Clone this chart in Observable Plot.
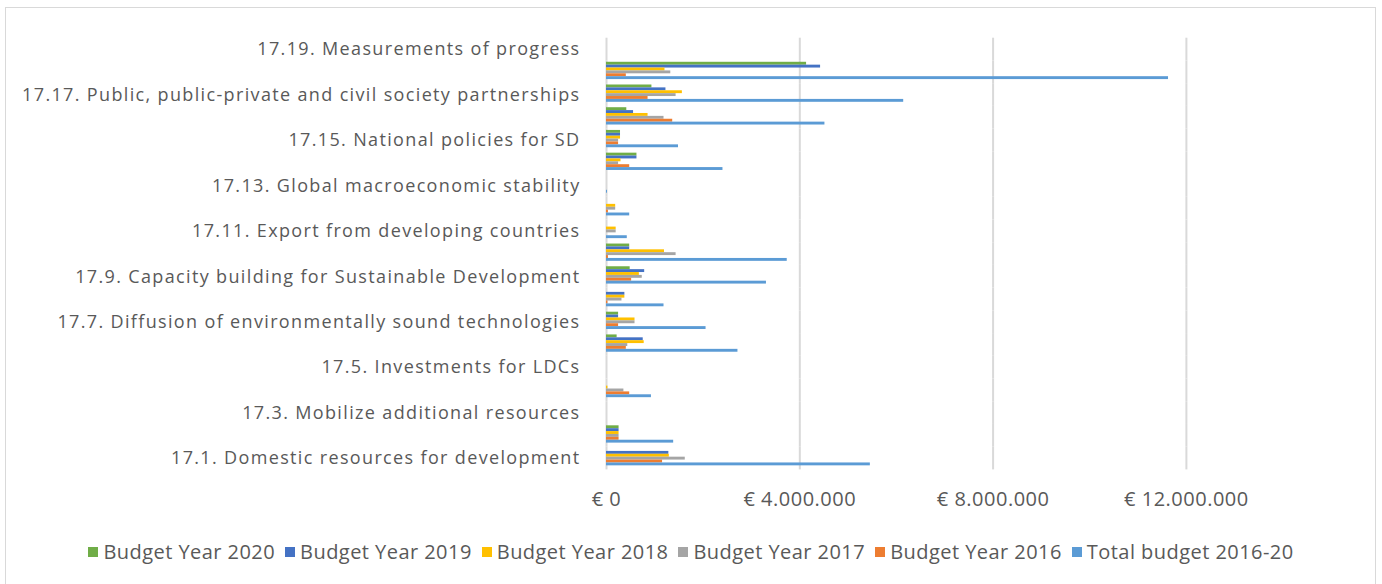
<!DOCTYPE html>
<html>
<head>
<meta charset="utf-8">
<script src="https://cdn.jsdelivr.net/npm/d3@7"></script>
<script src="https://cdn.jsdelivr.net/npm/@observablehq/plot@0.6"></script>
<style>
  html, body { margin: 0; padding: 0; background: #fff; }
  body { width: 1382px; height: 584px; position: relative; overflow: hidden; font-family: "Open Sans", sans-serif; }
  #frame { position: absolute; left: 5px; top: 7px; width: 1371px; height: 600px; border: 1px solid #d9d9d9; box-sizing: border-box; }
  #chart { position: absolute; left: 0; top: 0; }
  #legend { position: absolute; left: 0; top: 538px; width: 1382px; display: flex; justify-content: center; gap: 10px; font-size: 20px; letter-spacing: 0.45px; color: #595959; }
  .item { display: flex; align-items: center; gap: 5px; white-space: nowrap; }
  .sw { width: 10px; height: 10px; display: inline-block; }
</style>
</head>
<body>
<div id="frame"></div>
<div id="chart"></div>
<div id="legend"></div>
<script>
// Categories (SDG 17 targets), bottom to top as read: 17.1 ... 17.19
const categories = [
  "17.1. Domestic resources for development",
  "17.2. ODA commitments",
  "17.3. Mobilize additional resources",
  "17.4. Debt sustainability",
  "17.5. Investments for LDCs",
  "17.6. Science, technology and innovation cooperation",
  "17.7. Diffusion of environmentally sound technologies",
  "17.8. Technology bank",
  "17.9. Capacity building for Sustainable Development",
  "17.10. Multilateral trading system",
  "17.11. Export from developing countries",
  "17.12. Market access for LDCs",
  "17.13. Global macroeconomic stability",
  "17.14. Policy coherence for SD",
  "17.15. National policies for SD",
  "17.16. Global partnership for SD",
  "17.17. Public, public-private and civil society partnerships",
  "17.18. Data availability",
  "17.19. Measurements of progress"
];
// Labels shown on the category axis
const shownLabels = categories.filter((d, i) => i % 2 === 0);

const seriesNames = ["Budget Year 2020", "Budget Year 2019", "Budget Year 2018", "Budget Year 2017", "Budget Year 2016", "Total budget 2016-20"];
const seriesColors = ["#70AD47", "#4472C4", "#FFC000", "#A5A5A5", "#ED7D31", "#5B9BD5"];

// Values in euros, in category order 17.1 ... 17.19
const budget2020 = [0, 260000, 0, 0, 0, 220000, 250000, 0, 490000, 480000, 0, 0, 0, 630000, 290000, 420000, 940000, 4140000, 0];
const budget2019 = [1290000, 260000, 0, 0, 0, 760000, 250000, 380000, 790000, 480000, 0, 0, 0, 630000, 290000, 560000, 1230000, 4430000, 0];
const budget2018 = [1300000, 260000, 0, 30000, 0, 780000, 590000, 380000, 680000, 1200000, 200000, 190000, 0, 300000, 290000, 860000, 1570000, 1210000, 0];
const budget2017 = [1630000, 260000, 0, 360000, 0, 440000, 590000, 320000, 740000, 1440000, 200000, 190000, 0, 250000, 250000, 1190000, 1440000, 1330000, 0];
const budget2016 = [1160000, 260000, 0, 480000, 0, 410000, 250000, 30000, 520000, 40000, 0, 40000, 0, 480000, 250000, 1370000, 860000, 410000, 0];
const totalBudget = [5460000, 1390000, 0, 930000, 0, 2720000, 2060000, 1190000, 3310000, 3740000, 430000, 480000, 20000, 2410000, 1490000, 4520000, 6150000, 11630000, 0];

const xTicks = [0, 4000000, 8000000, 12000000];

const seriesValues = [budget2020, budget2019, budget2018, budget2017, budget2016, totalBudget];
const rows = [];
categories.forEach((cat, i) => {
  seriesNames.forEach((s, j) => {
    rows.push({cat, series: s, value: seriesValues[j][i]});
  });
});

const euro = d => "€ " + d3.format(",")(d).replace(/,/g, ".");

const W = 1382, H = 520;
const plotTop = 37.7, plotBottom = 469.4, x0 = 606, pxPerUnit = 193.3 / 4000000;
const xMax = 14000000;
const marginRight = W - (x0 + xMax * pxPerUnit);

const chart = Plot.plot({
  width: W,
  height: H,
  marginLeft: x0,
  marginRight,
  marginTop: plotTop,
  marginBottom: H - plotBottom,
  style: {fontFamily: "'Open Sans', sans-serif", fontSize: "18px", letterSpacing: "1.35px", color: "#595959", background: "transparent", overflow: "visible"},
  x: {domain: [0, xMax], ticks: xTicks, tickFormat: euro, tickSize: 0, tickPadding: 22, label: null},
  y: {domain: seriesNames, axis: null, paddingInner: 0, paddingOuter: 0.94, align: 0.25, round: false},
  fy: {domain: categories.slice().reverse(), padding: 0, round: false, axis: "left", ticks: shownLabels,
       tickFormat: d => shownLabels.includes(d) ? d : "", tickSize: 0, tickPadding: 26, label: null},
  color: {domain: seriesNames, range: seriesColors},
  facet: {data: rows, y: "cat", label: null},
  marks: [
    Plot.ruleX(xTicks.slice(1), {stroke: "#d9d9d9", strokeWidth: 2}),
    Plot.ruleX([0], {stroke: "#d9d9d9", strokeWidth: 2}),
    Plot.barX(rows, {x: "value", y: "series", fill: "series"})
  ]
});
document.getElementById("chart").appendChild(chart);

// Value axis labels are drawn a little larger than the category labels
d3.select(chart).selectAll('g[aria-label^="x-axis"] text')
  .style("font-size", "20px")
  .style("letter-spacing", "0.5px");

const legend = document.getElementById("legend");
seriesNames.forEach((s, j) => {
  const it = document.createElement("div");
  it.className = "item";
  const sw = document.createElement("span");
  sw.className = "sw";
  sw.style.background = seriesColors[j];
  const t = document.createElement("span");
  t.textContent = s;
  it.appendChild(sw);
  it.appendChild(t);
  legend.appendChild(it);
});
</script>
</body>
</html>
